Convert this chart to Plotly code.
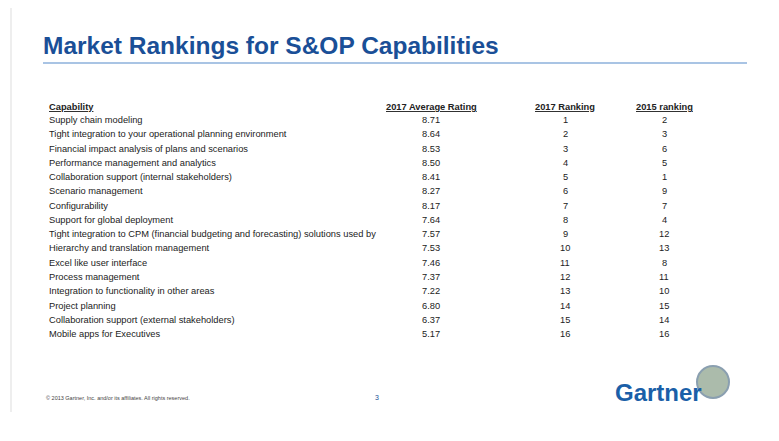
import plotly.graph_objects as go

capabilities = ["Supply chain modeling","Tight integration to your operational planning environment",
 "Financial impact analysis of plans and scenarios","Performance management and analytics",
 "Collaboration support (internal stakeholders)","Scenario management","Configurability",
 "Support for global deployment",
 "Tight integration to CPM (financial budgeting and forecasting) solutions used by",
 "Hierarchy and translation management","Excel like user interface","Process management",
 "Integration to functionality in other areas","Project planning",
 "Collaboration support (external stakeholders)","Mobile apps for Executives"]
avg_rating = ["8.71","8.64","8.53","8.50","8.41","8.27","8.17","7.64","7.57","7.53","7.46","7.37","7.22","6.80","6.37","5.17"]
rank_2017 = [1,2,3,4,5,6,7,8,9,10,11,12,13,14,15,16]
rank_2015 = [2,3,6,5,1,9,7,4,12,13,8,11,10,15,14,16]
headers = ["Capability","2017 Average Rating","2017 Ranking","2015 ranking"]

F = "Liberation Sans, Arial, sans-serif"
DX, DY = -9, -8
fig = go.Figure()
ann = []
def t(x, y, s, anchor="left", size=9.3, color="#222", fam=F, bold=False):
    ann.append(dict(x=x+DX, y=y+DY, text=f"<b>{s}</b>" if bold else s, xref="x", yref="y", showarrow=False,
                    xanchor=anchor, yanchor="middle", font=dict(family=fam, size=size, color=color)))

t(42, 45, "Market Rankings for S&OP Capabilities", size=24.5, color="#1a4f97", bold=True)
hx = [(48,"left"),(432,"center"),(566,"center"),(665,"center")]
for (x,a),h in zip(hx, headers):
    t(x, 107, f"<u>{h}</u>", a, bold=True)
for i in range(len(capabilities)):
    y = 120 + i*14.27
    t(48, y, capabilities[i])
    t(432, y, avg_rating[i], "center")
    t(566, y, str(rank_2017[i]), "center")
    t(665, y, str(rank_2015[i]), "center")
t(45, 398, "© 2013 Gartner, Inc. and/or its affiliates. All rights reserved.", size=5.5, color="#444")
t(378, 397, "3", "center", size=7, color="#1a4f97")
t(659, 392, "Gartner", "center", size=24, color="#1a5fa8", bold=True)

def S(**k):
    for a in ("x0","x1"): k[a] += DX
    for a in ("y0","y1"): k[a] += DY
    k.update(xref="x", yref="y"); return k
shapes = [S(type="line", x0=44, x1=748, y0=63, y1=63, line=dict(color="#a9c4e4", width=2)),
          S(type="line", x0=12, x1=12, y0=8, y1=412, line=dict(color="#dddddd", width=1)),
          S(type="circle", x0=698, x1=730, y0=366, y1=398,
               fillcolor="rgba(150,170,150,0.8)", line=dict(color="#8a9fb0", width=2))]
fig.update_layout(width=779, height=441, margin=dict(l=0, r=0, t=0, b=0), plot_bgcolor="white", paper_bgcolor="white",
                  xaxis=dict(range=[0,779], visible=False), yaxis=dict(range=[441,0], visible=False),
                  annotations=ann, shapes=shapes, showlegend=False)
fig.write_html("out.html")
